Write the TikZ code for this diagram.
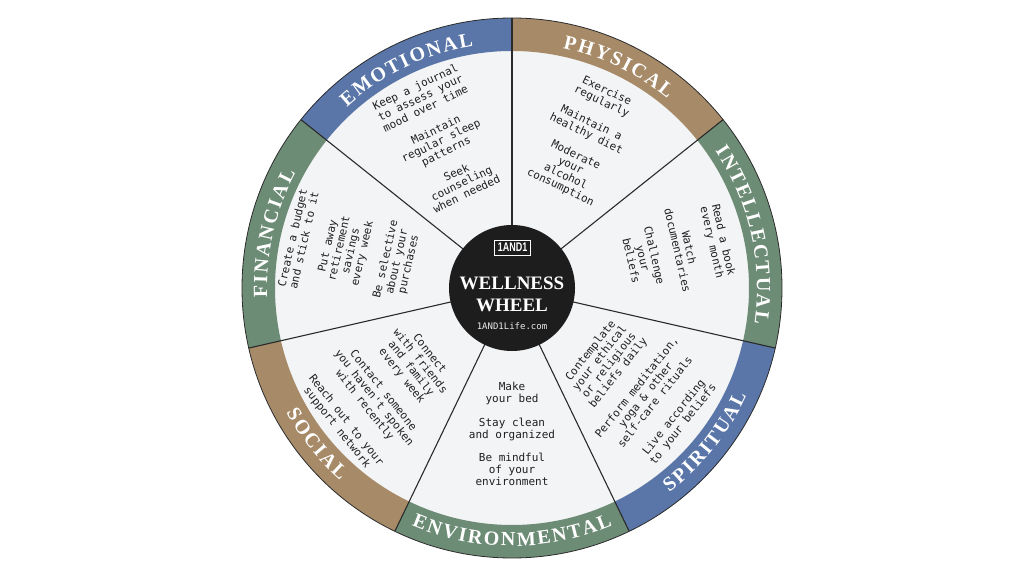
\documentclass[tikz,border=0pt]{standalone}
\usepackage{fontspec}
\setmainfont{Liberation Serif}
\newfontfamily\monofont{DejaVu Sans Mono}
\newfontfamily\labelfont{Liberation Serif}
\newfontfamily\logofont[FakeStretch=0.72]{Liberation Sans}
\definecolor{ringblue}{HTML}{5A76A8}
\definecolor{ringtan}{HTML}{A78B69}
\definecolor{ringgreen}{HTML}{6D8C76}
\definecolor{sectorfill}{HTML}{F3F4F6}
\definecolor{spoke}{HTML}{2A2A2A}
\definecolor{bodytext}{HTML}{1F1F1F}
\definecolor{hubfill}{HTML}{1D1D1D}
\tikzset{
  ringtext/.style={inner sep=0pt, text=white, font=\labelfont\bfseries\fontsize{20}{20}\selectfont},
  tipblock/.style={inner sep=0pt, align=center, text=bodytext, font=\monofont\fontsize{11}{11.8}\selectfont},
  spokeline/.style={draw=spoke, line width=1.1pt},
}
\newcommand\ringword[5]{% #1 mid angle, #2 baseline radius, #3 spacing, #4 dir, #5 letters
  \begingroup
  \labelfont\bfseries\fontsize{20}{20}\selectfont
  \gdef\rwtot{0}%
  \foreach \c in {#5}{%
    \pgfmathsetmacro\rww{width("\c")}%
    \pgfmathsetmacro\rwt{\rwtot+\rww+#3}%
    \global\let\rwtot\rwt
  }%
  \pgfmathsetmacro\rwtotal{\rwtot-#3}%
  \global\let\rwtotalg\rwtotal
  \gdef\rwpos{0}%
  \foreach \c in {#5}{%
    \pgfmathsetmacro\rww{width("\c")}%
    \pgfmathsetmacro\rwang{#1-(#4)*(\rwpos+\rww/2-\rwtotalg/2)/#2*180/pi}%
    \pgfmathsetmacro\rwrot{\rwang-(#4)*90}%
    \node[ringtext, rotate=\rwrot, anchor=base] at (\rwang:#2) {\c};
    \pgfmathsetmacro\rwt{\rwpos+\rww+#3}%
    \global\let\rwpos\rwt
  }%
  \endgroup
}
\begin{document}
\begin{tikzpicture}[x=1pt,y=1pt]
\useasboundingbox (0,0) rectangle (1024,576);
\fill[white] (0,0) rectangle (1024,576);
\begin{scope}[shift={(512,288)}]
  % inner disc
  \fill[sectorfill] (0,0) circle[radius=237];
  % ring sectors
  \foreach \a/\col in {38.571/ringtan, 90/ringblue, 141.429/ringgreen, 192.857/ringtan, 244.286/ringgreen, 295.714/ringblue, 347.143/ringgreen}{
    \pgfmathsetmacro\b{\a+51.4286}
    \fill[\col] (\a:270) arc[start angle=\a, end angle=\b, radius=270] -- (\b:237) arc[start angle=\b, end angle=\a, radius=237] -- cycle;
  }
  \draw[spoke, line width=0.8pt] (0,0) circle[radius=270];
  % spokes
  \foreach \a in {38.571, 90, 141.429, 192.857, 244.286, 295.714, 347.143}{
    \draw[spokeline] (\a:60) -- (\a:270);
  }
  % hub
  \fill[hubfill] (0,0) circle[radius=63];
  \node[draw=white, line width=0.7pt, text=white, inner sep=0pt, minimum width=36pt, minimum height=15pt,
        font=\logofont\bfseries\fontsize{12.5}{12.5}\selectfont] (logo) at (0.5,40.5) {1AND1};
  \node[anchor=base, inner sep=0pt, text=white, font=\bfseries\fontsize{19}{19}\selectfont] (title1) at (0,-1.3) {WELLNESS};
  \node[anchor=base, inner sep=0pt, text=white, font=\bfseries\fontsize{19}{19}\selectfont] (title2) at (0,-23) {WHEEL};
  \node[anchor=base, inner sep=0pt, text=white!92!black, font=\monofont\fontsize{9}{9}\selectfont] (site) at (0,-41.5) {1AND1Life.com};
  % ring labels
  \ringword{115.714}{245}{2}{1}{E,M,O,T,I,O,N,A,L}
  \ringword{64.286}{245}{2}{1}{P,H,Y,S,I,C,A,L}
  \ringword{12.857}{245}{2}{1}{I,N,T,E,L,L,E,C,T,U,A,L}
  \ringword{167.143}{245}{2}{1}{F,I,N,A,N,C,I,A,L}
  \ringword{218.571}{258}{2}{-1}{S,O,C,I,A,L}
  \ringword{270}{258}{2}{-1}{E,N,V,I,R,O,N,M,E,N,T,A,L}
  \ringword{321.429}{258}{2}{-1}{S,P,I,R,I,T,U,A,L}
  % text blocks
  \node[tipblock, rotate=-25.714] (physical) at (64.286:165) {Exercise\\regularly\\[12pt]Maintain a\\healthy diet\\[12pt]Moderate\\your\\alcohol\\consumption};
  \node[tipblock, rotate=25.714] (emotional) at (115.714:164) {Keep a journal\\to assess your\\mood over time\\[12pt]Maintain\\regular sleep\\patterns\\[12pt]Seek\\counseling\\when needed};
  \node[tipblock, rotate=77.143] (financial) at (167.143:165) {Create a budget\\and stick to it\\[12pt]Put away\\retirement\\savings\\every week\\[12pt]Be selective\\about your\\purchases};
  \node[tipblock, rotate=-77.143] (intellectual) at (12.857:170) {Read a book\\every month\\[12pt]Watch\\documentaries\\[12pt]Challenge\\your\\beliefs};
  \node[tipblock, rotate=-51.429] (social) at (218.571:165) {Connect\\with friends\\and family\\every week\\[12pt]Contact someone\\you haven't spoken\\with recently\\[12pt]Reach out to your\\support network};
  \node[tipblock] (environmental) at (270:146) {Make\\your bed\\[12pt]Stay clean\\and organized\\[12pt]Be mindful\\of your\\environment};
  \node[tipblock, rotate=51.429] (spiritual) at (321.429:160) {Contemplate\\your ethical\\or religious\\beliefs daily\\[12pt]Perform meditation,\\yoga \& other\\self-care rituals\\[12pt]Live according\\to your beliefs};
\end{scope}
\end{tikzpicture}
\end{document}
